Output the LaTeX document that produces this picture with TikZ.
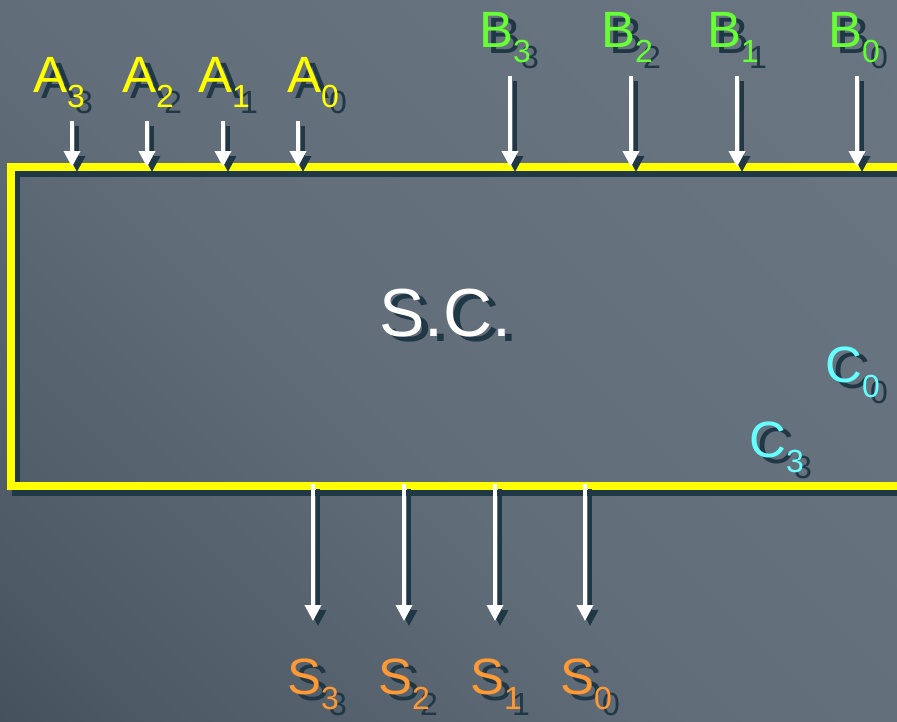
\documentclass[tikz,border=0pt]{standalone}
\usepackage{fontspec}
\setmainfont{Liberation Sans}
\usetikzlibrary{arrows.meta}
\definecolor{shd}{HTML}{203745}
\definecolor{bgA}{HTML}{34404C}
\definecolor{bgB}{HTML}{4E5A65}
\definecolor{bgC}{HTML}{616D78}
\definecolor{bgD}{HTML}{67737E}
\definecolor{bgE}{HTML}{6B7782}
\definecolor{ayel}{HTML}{FFFF00}
\definecolor{bgrn}{HTML}{66FF33}
\definecolor{ccyn}{HTML}{66FFFF}
\definecolor{sorg}{HTML}{FF9933}
\pgfdeclareverticalshading{bgshade}{100bp}{color(0bp)=(bgA); color(22bp)=(bgB); color(45bp)=(bgC); color(70bp)=(bgD); color(100bp)=(bgE)}
\newcommand\mysub[1]{\raisebox{-15pt}{\fontsize{32}{32}\selectfont #1}}
\newcommand\siglabel[6]{%
  \node[lab, text=shd] (#1sh) at (#2+8,#3+6) {#5\mysub{#6}};
  \node[lab, text=#4] (#1) at (#2,#3) {#5\mysub{#6}};}
\begin{document}
\begin{tikzpicture}[x=1pt,y=-1pt,
  lab/.style={anchor=base west, inner sep=0pt, font=\fontsize{51}{51}\selectfont},
  arr/.style={line width=3.5pt, -{Triangle[length=16pt,width=16pt]}},
  arrw/.style={arr, draw=white},
  arrs/.style={arr, draw=shd, transform canvas={shift={(5,5)}}},
  boxline/.style={line width=8pt}]
\useasboundingbox (0,0) rectangle (897,721);
\clip (0,0) rectangle (897,721);
\shade[shading=bgshade, shading angle=-45] (0,0) rectangle (897,721);
% box with shadow
\draw[boxline, draw=shd] (930,172.5) -- (16,172.5) -- (16,491.5) -- (930,491.5);
\draw[boxline, draw=ayel] (930,166.5) -- (11,166.5) -- (11,485.5) -- (930,485.5);
% centre text
\node[lab, font=\fontsize{68}{68}\selectfont, text=shd] (scsh) at (386,341) {S.C.};
\node[lab, font=\fontsize{68}{68}\selectfont, text=white] (sc) at (379,336) {S.C.};
% labels
\siglabel{a3}{33}{92}{ayel}{A}{3}
\siglabel{a2}{122}{92}{ayel}{A}{2}
\siglabel{a1}{198}{92}{ayel}{A}{1}
\siglabel{a0}{287}{92}{ayel}{A}{0}
\siglabel{b3}{479}{47}{bgrn}{B}{3}
\siglabel{b2}{601}{47}{bgrn}{B}{2}
\siglabel{b1}{707}{47}{bgrn}{B}{1}
\siglabel{b0}{828}{47}{bgrn}{B}{0}
\siglabel{c0}{825}{382}{ccyn}{C}{0}
\siglabel{c3}{749}{457}{ccyn}{C}{3}
\siglabel{s3}{287}{694}{sorg}{S}{3}
\siglabel{s2}{378}{694}{sorg}{S}{2}
\siglabel{s1}{470}{694}{sorg}{S}{1}
\siglabel{s0}{560}{694}{sorg}{S}{0}
% arrow coordinates
\foreach \x/\n in {72/a3,147/a2,223/a1,298/a0}{
  \coordinate (\n t) at (\x,121); \coordinate (\n h) at (\x,167);}
\foreach \x/\n in {510/b3,631/b2,737/b1,857/b0}{
  \coordinate (\n t) at (\x,76); \coordinate (\n h) at (\x,167);}
\foreach \x/\n in {313/s3,404/s2,495/s1,585/s0}{
  \coordinate (\n t) at (\x,484); \coordinate (\n h) at (\x,621);}
% arrows
\foreach \n in {a3,a2,a1,a0,b3,b2,b1,b0,s3,s2,s1,s0}{
  \draw[arrs] (\n t) -- (\n h);
  \draw[arrw] (\n t) -- (\n h);}
\end{tikzpicture}
\end{document}
